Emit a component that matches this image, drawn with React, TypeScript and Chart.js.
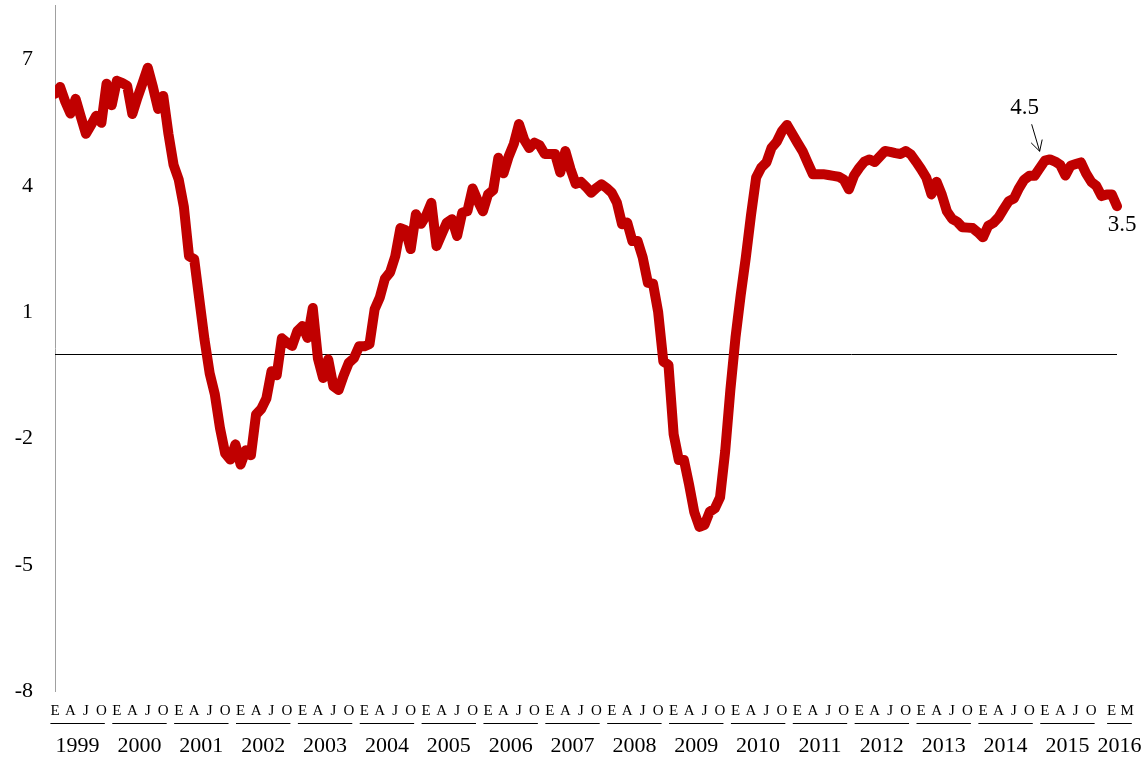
import React, { useEffect, useRef } from "react";
import { Chart, registerables } from "chart.js";

Chart.register(...registerables);

const y1999 = [6.19, 6.35, 6.0, 5.72, 6.07, 5.65, 5.24, 5.45, 5.67, 5.5, 6.43, 5.92];
const y2000 = [6.5, 6.45, 6.38, 5.71, 6.1, 6.45, 6.81, 6.35, 5.83, 6.14, 5.24, 4.5];
const y2001 = [4.15, 3.5, 2.33, 2.26, 1.3, 0.35, -0.45, -0.95, -1.75, -2.35, -2.5, -2.14];
const y2002 = [-2.62, -2.28, -2.4, -1.43, -1.3, -1.05, -0.4, -0.5, 0.38, 0.28, 0.2, 0.55];
const y2003 = [0.67, 0.39, 1.1, -0.1, -0.56, -0.12, -0.76, -0.85, -0.5, -0.2, -0.09, 0.19];
const y2004 = [0.19, 0.24, 1.07, 1.35, 1.8, 1.95, 2.33, 3.0, 2.95, 2.5, 3.33, 3.1];
const y2005 = [3.3, 3.6, 2.57, 2.85, 3.13, 3.21, 2.81, 3.37, 3.4, 3.94, 3.65, 3.4];
const y2006 = [3.8, 3.9, 4.67, 4.3, 4.7, 5.0, 5.47, 5.1, 4.9, 5.03, 4.97, 4.76];
const y2007 = [4.76, 4.76, 4.32, 4.83, 4.4, 4.05, 4.1, 3.98, 3.84, 3.95, 4.04, 3.95];
const y2008 = [3.84, 3.6, 3.09, 3.13, 2.69, 2.69, 2.3, 1.7, 1.68, 1.0, -0.17, -0.25];
const y2009 = [-1.9, -2.51, -2.51, -3.1, -3.75, -4.1, -4.05, -3.74, -3.66, -3.4, -2.3, -0.85];
const y2010 = [0.4, 1.4, 2.3, 3.3, 4.2, 4.44, 4.56, 4.91, 5.05, 5.3, 5.45, 5.24];
const y2011 = [5.03, 4.83, 4.55, 4.28, 4.28, 4.28, 4.26, 4.24, 4.22, 4.15, 3.92, 4.25];
const y2012 = [4.43, 4.58, 4.63, 4.57, 4.7, 4.83, 4.81, 4.78, 4.76, 4.83, 4.75, 4.58];
const y2013 = [4.4, 4.2, 3.8, 4.1, 3.8, 3.4, 3.22, 3.15, 3.02, 3.01, 3.0, 2.9];
const y2014 = [2.78, 3.05, 3.12, 3.25, 3.45, 3.64, 3.7, 3.95, 4.15, 4.24, 4.24, 4.42];
const y2015 = [4.6, 4.63, 4.58, 4.5, 4.25, 4.48, 4.52, 4.56, 4.3, 4.1, 4.0, 3.76];
const y2016 = [3.8, 3.8, 3.52];

const yearSeries = [
  y1999, y2000, y2001, y2002, y2003, y2004, y2005, y2006, y2007,
  y2008, y2009, y2010, y2011, y2012, y2013, y2014, y2015, y2016,
];
const years = [
  "1999", "2000", "2001", "2002", "2003", "2004", "2005", "2006", "2007",
  "2008", "2009", "2010", "2011", "2012", "2013", "2014", "2015", "2016",
];
const monthLetters = ["E", "F", "M", "A", "M", "J", "J", "A", "S", "O", "N", "D"];
const shownMonths = [0, 3, 6, 9];
const yTicks = [-8, -5, -2, 1, 4, 7];

const annotationHigh = { text: "4.5", index: 191 };
const annotationLast = { text: "3.5" };

const values: number[] = yearSeries.flat();
const labels: string[] = [];
const yearOf: number[] = [];
const monthOf: number[] = [];
yearSeries.forEach((arr, yi) => {
  arr.forEach((_, mi) => {
    labels.push(monthLetters[mi]);
    yearOf.push(yi);
    monthOf.push(mi);
  });
});
const lastIndex = values.length - 1;
const isShown = (i: number) => shownMonths.includes(monthOf[i]) || i === lastIndex;

const FONT = "'Liberation Serif', 'Times New Roman', Times, serif";

export default function App() {
  const ref = useRef<HTMLCanvasElement | null>(null);
  useEffect(() => {
    if (!ref.current) return;
    const decor = {
      id: "decor",
      beforeDatasetsDraw(chart: any) {
        const { ctx, chartArea, scales } = chart;
        const y0 = Math.round(scales.y.getPixelForValue(0)) + 0.5;
        ctx.save();
        ctx.strokeStyle = "#000";
        ctx.lineWidth = 1;
        ctx.beginPath();
        ctx.moveTo(chartArea.left, y0);
        ctx.lineTo(chartArea.right, y0);
        ctx.stroke();
        ctx.restore();
      },
      afterDraw(chart: any) {
        const { ctx, scales } = chart;
        const xs = scales.x;
        const ys = scales.y;
        const step = xs.getPixelForValue(3) - xs.getPixelForValue(0);
        ctx.save();
        ctx.fillStyle = "#000";
        ctx.strokeStyle = "#000";
        ctx.lineWidth = 1;
        years.forEach((yr, yi) => {
          const idx: number[] = [];
          for (let i = 0; i < values.length; i++) if (yearOf[i] === yi && isShown(i)) idx.push(i);
          if (!idx.length) return;
          const partial = yearSeries[yi].length < 12;
          // letter positions: one letter per quarter slot
          const base = xs.getPixelForValue(idx[0]) + (partial ? 5 : 0);
          const pos = idx.map((_, k) => base + k * step);
          ctx.font = `15px ${FONT}`;
          ctx.textAlign = "center";
          ctx.textBaseline = "middle";
          idx.forEach((i, k) => ctx.fillText(labels[i], pos[k], 711));
          const wf = ctx.measureText(labels[idx[0]]).width;
          const wl = ctx.measureText(labels[idx[idx.length - 1]]).width;
          const left = pos[0] - wf / 2;
          const right = pos[pos.length - 1] + wl / 2 - 2;
          const uy = 723.5;
          ctx.beginPath();
          ctx.moveTo(left, uy);
          ctx.lineTo(right, uy);
          ctx.stroke();
          ctx.font = `22px ${FONT}`;
          ctx.fillText(yr, (left + right) / 2, 746);
        });
        // annotations
        ctx.font = `23px ${FONT}`;
        ctx.textAlign = "center";
        ctx.textBaseline = "middle";
        const hx = xs.getPixelForValue(annotationHigh.index);
        const hy = ys.getPixelForValue(values[annotationHigh.index]);
        ctx.fillText(annotationHigh.text, hx - 15, hy - 60);
        const ax0 = hx - 8, ay0 = hy - 44, ax1 = hx, ay1 = hy - 17;
        ctx.beginPath();
        ctx.moveTo(ax0, ay0);
        ctx.lineTo(ax1, ay1);
        ctx.stroke();
        const ang = Math.atan2(ay1 - ay0, ax1 - ax0);
        const hl = 12;
        ctx.beginPath();
        ctx.moveTo(ax1 - hl * Math.cos(ang - 0.5), ay1 - hl * Math.sin(ang - 0.5));
        ctx.lineTo(ax1, ay1);
        ctx.lineTo(ax1 - hl * Math.cos(ang + 0.5), ay1 - hl * Math.sin(ang + 0.5));
        ctx.stroke();
        const lx = xs.getPixelForValue(lastIndex);
        const ly = ys.getPixelForValue(values[lastIndex]);
        ctx.fillText(annotationLast.text, lx + 5, ly + 19);
        ctx.restore();
      },
    };

    const chart = new Chart(ref.current, {
      type: "line",
      data: {
        labels,
        datasets: [
          {
            data: values,
            borderColor: "#C00000",
            borderWidth: 10,
            pointRadius: 0,
            tension: 0,
            borderJoinStyle: "round",
            borderCapStyle: "round",
            fill: false,
            clip: { left: 0, right: 10, top: 10, bottom: 10 },
          } as any,
        ],
      },
      options: {
        animation: false,
        responsive: false,
        maintainAspectRatio: false,
        layout: { padding: { left: 0, right: 29, top: 5, bottom: 0 } },
        plugins: { legend: { display: false }, tooltip: { enabled: false } },
        scales: {
          x: {
            type: "category",
            offset: false,
            grid: { display: false, drawTicks: false },
            border: { display: false },
            ticks: { display: false, autoSkip: false },
            afterFit: (s: any) => {
              s.height = 69;
              s.paddingLeft = 0;
              s.paddingRight = 0;
            },
          },
          y: {
            min: -8,
            max: 8.3,
            grid: { display: false, drawTicks: false },
            border: { display: true, color: "#a0a0a0", width: 1 },
            ticks: {
              padding: 22,
              color: "#000",
              font: { family: FONT, size: 22 },
            },
            afterBuildTicks: (s: any) => {
              s.ticks = yTicks.map((v) => ({ value: v }));
            },
            afterFit: (s: any) => {
              s.width = 55;
              s.paddingTop = 0;
              s.paddingBottom = 0;
            },
          },
        },
      },
      plugins: [decor],
    });
    return () => chart.destroy();
  }, []);

  return (
    <div style={{ position: "absolute", left: 0, top: 0, width: 1146, height: 760, background: "#fff" }}>
      <canvas ref={ref} width={1146} height={760} style={{ width: 1146, height: 760 }} />
    </div>
  );
}
